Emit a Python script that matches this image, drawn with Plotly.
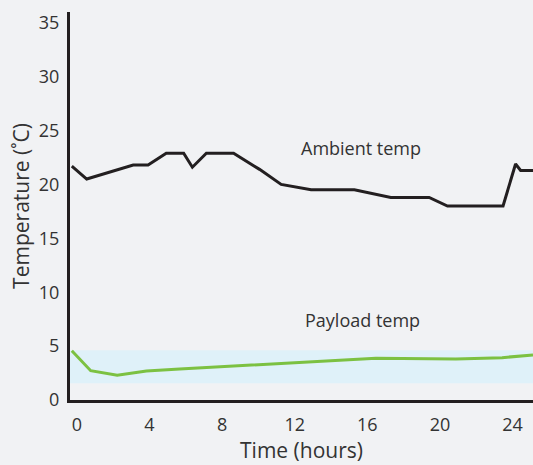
import plotly.graph_objects as go

# Data
ambient_x = [0, 0.82, 3.38, 4.2, 5.2, 6.16, 6.64, 7.41, 8.91, 10.34, 11.53, 13.18, 15.56,
             17.57, 19.68, 20.69, 23.75, 24.44, 24.72, 25.4]
ambient_y = [21.7, 20.5, 21.8, 21.8, 22.9, 22.9, 21.6, 22.9, 22.9, 21.4, 20.0, 19.5, 19.5,
             18.8, 18.8, 18.0, 18.0, 21.9, 21.3, 21.3]
payload_x = [0, 1.04, 2.5, 4.11, 5.94, 16.75, 21.15, 23.7, 25.4]
payload_y = [4.57, 2.72, 2.29, 2.69, 2.88, 3.87, 3.80, 3.93, 4.18]
band_low, band_high = 1.55, 4.62
x_ticks = [0, 4, 8, 12, 16, 20, 24]
y_ticks = [0, 5, 10, 15, 20, 25, 30, 35]

FONT = "Open Sans"
TXT = "#333333"

fig = go.Figure()
fig.add_shape(type="rect", xref="paper", x0=0, x1=1, yref="y", y0=band_low, y1=band_high,
              fillcolor="#dff1f9", line=dict(width=0), layer="below")
fig.add_trace(go.Scatter(x=ambient_x, y=ambient_y, mode="lines",
                         line=dict(color="#231f20", width=3), cliponaxis=True))
fig.add_trace(go.Scatter(x=payload_x, y=payload_y, mode="lines",
                         line=dict(color="#7cc142", width=3), cliponaxis=True))

fig.add_annotation(x=15.9, y=23.4, text="Ambient temp", showarrow=False,
                   font=dict(family=FONT, size=18, color=TXT))
fig.add_annotation(x=16.0, y=7.4, text="Payload temp", showarrow=False,
                   font=dict(family=FONT, size=18, color=TXT))

fig.update_layout(
    width=533, height=465,
    margin=dict(l=70, r=0, t=12, b=65),
    paper_bgcolor="#f1f2f4", plot_bgcolor="#f1f2f4",
    showlegend=False,
    font=dict(family=FONT, color=TXT),
)
fig.update_xaxes(range=[-0.1, 25.4], tickvals=x_ticks, showgrid=False, zeroline=False,
                 showline=True, linecolor="#231f20", linewidth=3, ticks="",
                 tickfont=dict(size=18, color=TXT), ticklabelstandoff=6, ticklabelshift=5,
                 title=dict(text="Time (hours)", font=dict(size=21, color=TXT), standoff=2))
fig.update_yaxes(range=[0, 36], tickvals=y_ticks, showgrid=False, zeroline=False,
                 showline=True, linecolor="#231f20", linewidth=3, ticks="",
                 tickfont=dict(size=18, color=TXT), ticklabelstandoff=4,
                 title=dict(text="Temperature (˚C)", font=dict(size=21, color=TXT), standoff=4))

fig.write_html("out.html", config={"displayModeBar": False},
               post_script="document.body.style.margin='0';document.body.style.background='#f1f2f4';")
